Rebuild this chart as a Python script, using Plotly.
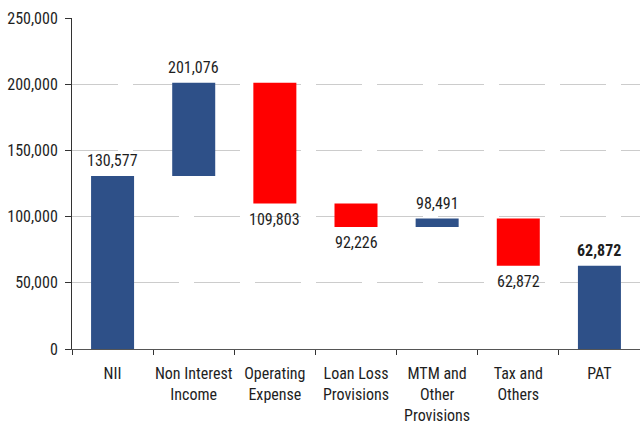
import plotly.graph_objects as go

# Waterfall steps: running level after each step
categories = ["NII", "Non Interest<br>Income", "Operating<br>Expense", "Loan Loss<br>Provisions",
              "MTM and<br>Other<br>Provisions", "Tax and<br>Others", "PAT"]
levels = [130577, 201076, 109803, 92226, 98491, 62872, 62872]
is_total = [False, False, False, False, False, False, True]

BLUE = "#2E5088"
RED = "#FF0000"
FONT = "Roboto Condensed, sans-serif"
INK = "#1E1E1E"

bases, sizes, colors = [], [], []
prev = 0
for lvl, tot in zip(levels, is_total):
    start = 0 if tot else prev
    bases.append(start)
    sizes.append(lvl - start)
    colors.append(RED if lvl < start else BLUE)
    prev = lvl

fig = go.Figure(go.Bar(
    x=categories, y=sizes, base=bases,
    marker=dict(color=colors, line=dict(width=0)),
    width=0.53,
    hoverinfo="skip",
))

# Value labels: above rising/total bars, below falling bars
for cat, lvl, size, tot in zip(categories, levels, sizes, is_total):
    label = f"{lvl:,}"
    falling = size < 0
    fig.add_annotation(
        x=cat, y=lvl, text=f"<b>{label}</b>" if tot else label,
        showarrow=False, xanchor="center",
        yanchor="top" if falling else "bottom",
        yshift=-4 if falling else 4,
        font=dict(family=FONT, size=16, color=INK),
    )

fig.update_layout(
    width=640, height=425,
    margin=dict(l=72, r=0, t=18, b=76, autoexpand=False),
    plot_bgcolor="white", paper_bgcolor="white",
    showlegend=False,
    font=dict(family=FONT, size=16, color=INK),
)
fig.update_yaxes(
    range=[0, 250000], dtick=50000, tickformat=",",
    showgrid=True, gridcolor="#CCCCCC", gridwidth=1, griddash="46px,15px",
    showline=True, linecolor="#333333", linewidth=1,
    ticks="outside", ticklen=6, tickcolor="#333333",
    zeroline=False, ticklabelstandoff=4, automargin=False,
)
fig.update_xaxes(
    showline=True, linecolor="#555555", linewidth=1,
    ticks="outside", ticklen=5, tickcolor="#333333", tickson="boundaries",
    showgrid=False, tickangle=0, ticklabelstandoff=10, automargin=False,
)

fig.write_html("out.html")
